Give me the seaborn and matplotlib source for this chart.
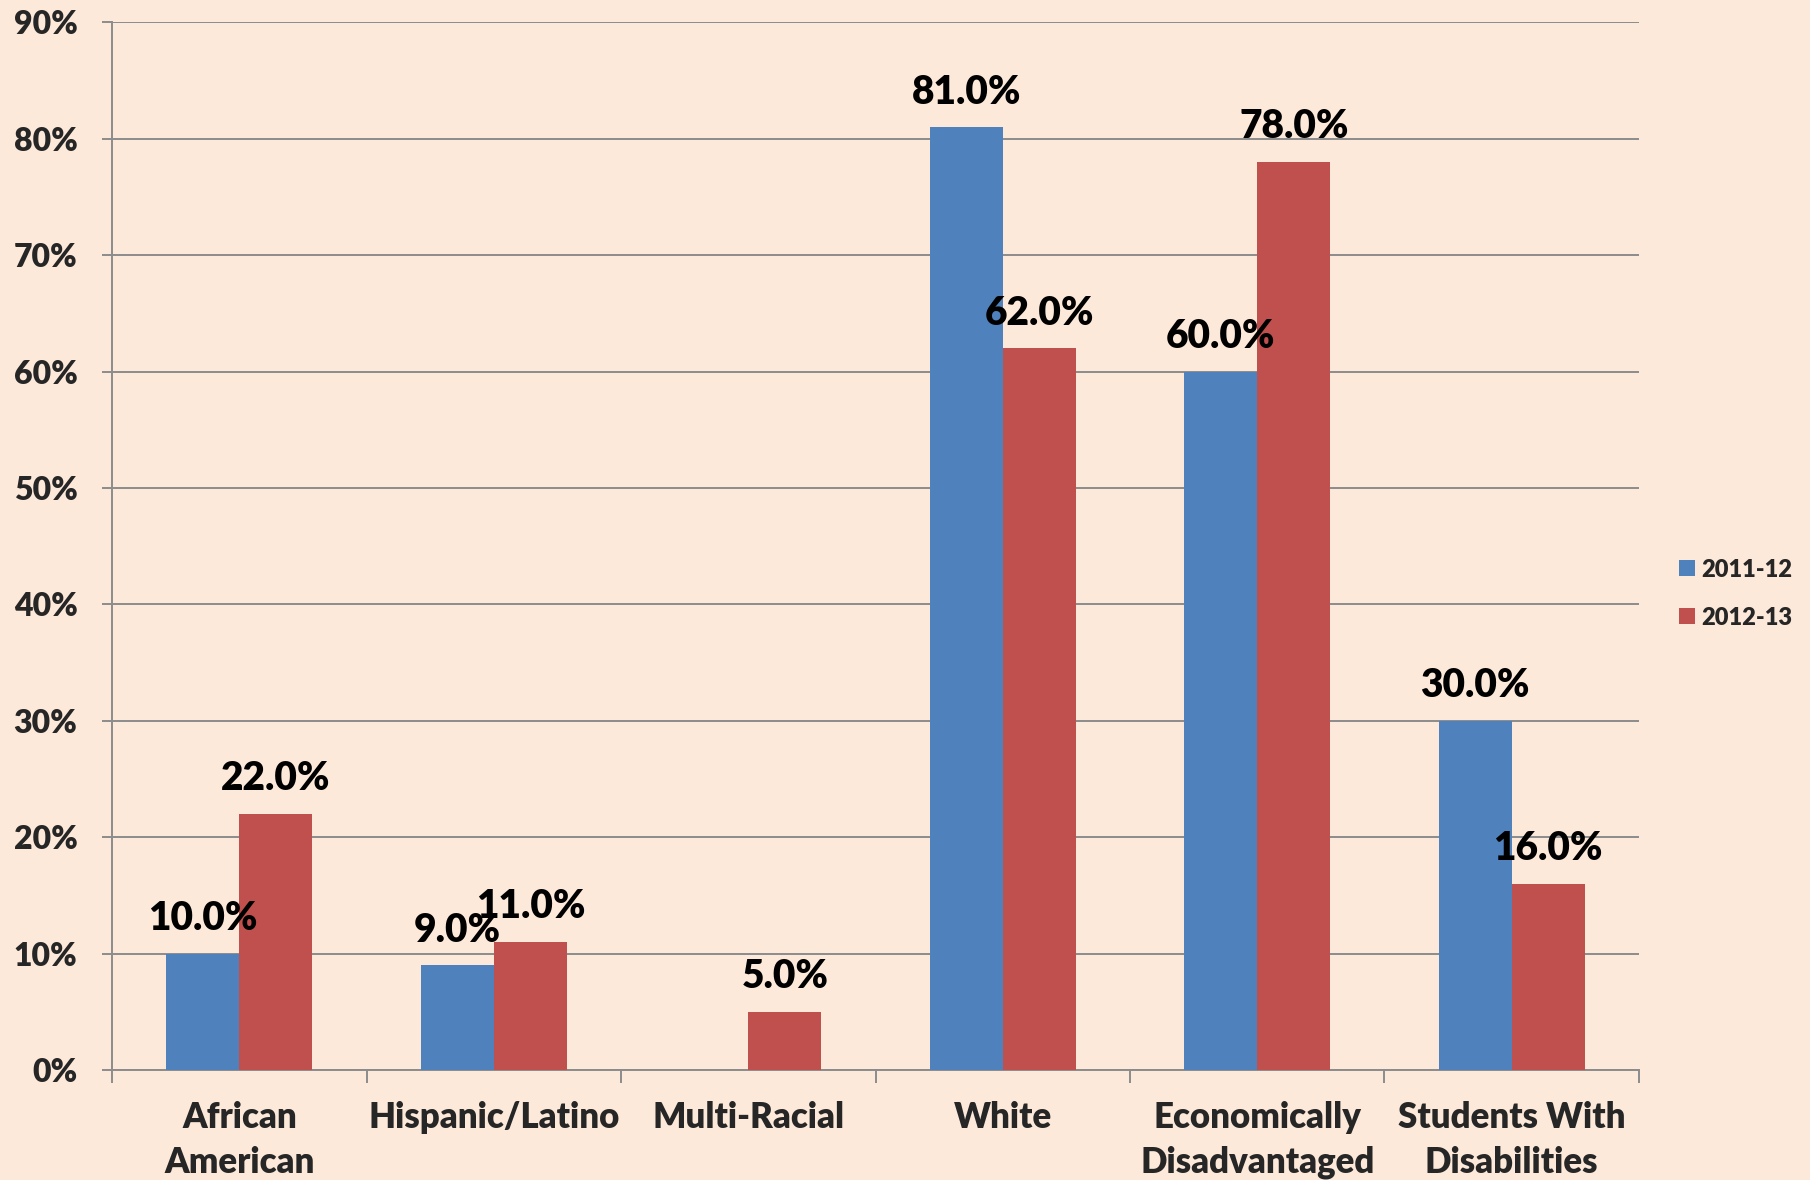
import matplotlib
matplotlib.use('Agg')
import matplotlib.pyplot as plt
import pandas as pd
import seaborn as sns
import numpy as np
from matplotlib.ticker import FixedLocator, FuncFormatter

categories = ['African\nAmerican', 'Hispanic/Latino', 'Multi-Racial', 'White',
              'Economically\nDisadvantaged', 'Students With\nDisabilities']
years = ['2011-12', '2012-13']
vals_2011 = [10.0, 9.0, np.nan, 81.0, 60.0, 30.0]
vals_2012 = [22.0, 11.0, 5.0, 62.0, 78.0, 16.0]
y_ticks = [0, 10, 20, 30, 40, 50, 60, 70, 80, 90]

bg = '#FDE9D9'
grid_col = '#8C8C8C'
pal = {'2011-12': '#4F81BD', '2012-13': '#C0504D'}
wt = 'heavy'

df = pd.DataFrame({
    'group': categories * 2,
    'year': [years[0]] * 6 + [years[1]] * 6,
    'value': vals_2011 + vals_2012,
})

sns.set_style('white')
plt.rcParams['font.family'] = ['Lato', 'DejaVu Sans']
plt.rcParams['font.weight'] = wt

fig = plt.figure(figsize=(18.1, 11.8), dpi=100, facecolor=bg)
ax = fig.add_axes([0.062, 0.0932, 0.8435, 0.8878])
ax.set_facecolor(bg)

sns.barplot(data=df.dropna(), x='group', y='value', hue='year', order=categories,
            hue_order=years, palette=pal, width=0.574, gap=0, saturation=1,
            edgecolor='none', ax=ax, zorder=3)

for cont in ax.containers:
    ax.bar_label(cont, fmt='%.1f%%', padding=12, fontsize=28, fontweight=wt,
                 color='black')

ax.set_xlim(-0.5, 5.5)
ax.set_ylim(0, 90)
ax.set_yticks(y_ticks)
ax.yaxis.set_major_formatter(FuncFormatter(lambda v, p: f'{v:.0f}%'))
ax.grid(axis='y', color=grid_col, linewidth=1.4, zorder=0)
ax.set_axisbelow(True)

for s in ['top', 'right']:
    ax.spines[s].set_visible(False)
for s in ['left', 'bottom']:
    ax.spines[s].set_color(grid_col)
    ax.spines[s].set_linewidth(1.4)

ax.tick_params(axis='y', length=7, width=1.4, color=grid_col, pad=18,
               labelsize=23, direction='out', left=True)
ax.xaxis.set_minor_locator(FixedLocator(np.arange(-0.5, 6, 1)))
ax.tick_params(axis='x', which='minor', length=9, width=1.4, color=grid_col,
               direction='out', bottom=True)
ax.tick_params(axis='x', which='major', length=0, pad=22, labelsize=25)
for lbl in ax.get_xticklabels():
    lbl.set_linespacing(1.45)
    lbl.set_fontweight(wt)
for lbl in ax.get_yticklabels():
    lbl.set_fontweight(wt)

ax.set_xlabel('')
ax.set_ylabel('')

leg = ax.legend(loc='center left', bbox_to_anchor=(0.916, 0.497),
                bbox_transform=fig.transFigure, frameon=False,
                prop={'size': 17, 'weight': wt}, handlelength=0.65,
                handleheight=0.65, handletextpad=0.3, labelspacing=1.1)

fig.savefig('out.png', dpi=100, facecolor=bg)
